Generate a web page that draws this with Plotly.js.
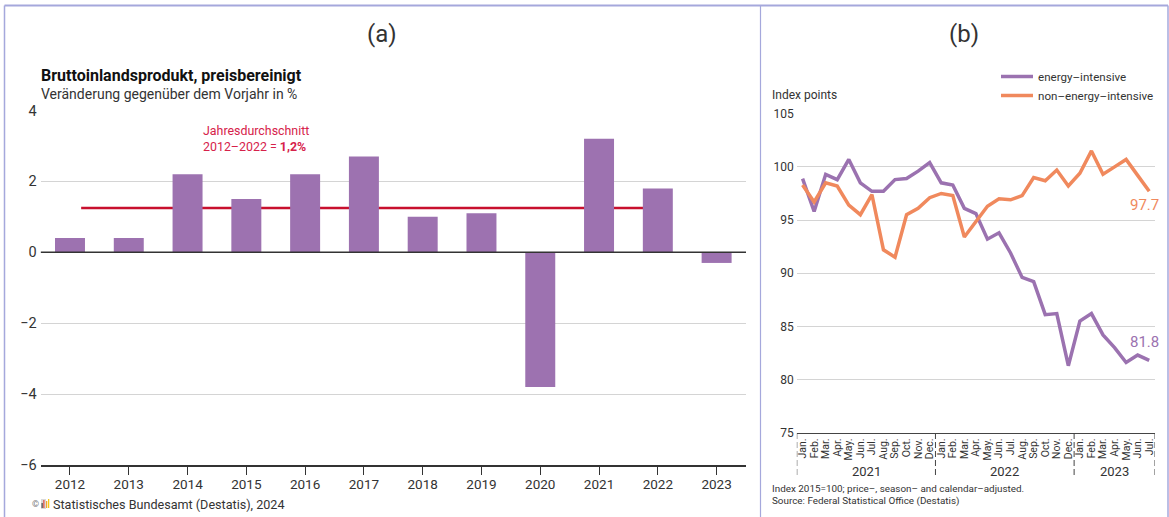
<!DOCTYPE html>
<html><head><meta charset="utf-8">
<script src="https://cdn.plot.ly/plotly-3.0.1.min.js"></script>
<style>html,body{margin:0;padding:0;background:#fff}#c{width:1169px;height:517px}</style></head>
<body><div id="c"></div>
<script>
const years = [2012,2013,2014,2015,2016,2017,2018,2019,2020,2021,2022,2023];
const gdpChange = [0.4,0.4,2.2,1.5,2.2,2.7,1.0,1.1,-3.8,3.2,1.8,-0.3];
const averageValue = 1.25;
const averageFrom = 2012.19;
const averageTo = 2022;

const monthLabels = ["Jan.","Feb.","Mar.","Apr.","May.","Jun.","Jul.","Aug.","Sep.","Oct.","Nov.","Dec.",
 "Jan.","Feb.","Mar.","Apr.","May.","Jun.","Jul.","Aug.","Sep.","Oct.","Nov.","Dec.",
 "Jan.","Feb.","Mar.","Apr.","May.","Jun.","Jul."];
const monthIndex = monthLabels.map((_, i) => i);
const energyIntensive = [98.9,95.8,99.3,98.8,100.7,98.5,97.7,97.7,98.8,98.9,99.6,100.4,
 98.5,98.3,96.1,95.6,93.2,93.8,91.9,89.6,89.2,86.1,86.2,81.3,
 85.5,86.2,84.2,83.0,81.6,82.3,81.8];
const nonEnergyIntensive = [98.3,96.7,98.5,98.2,96.4,95.5,97.4,92.2,91.5,95.5,96.1,97.1,
 97.5,97.3,93.4,94.8,96.3,97.0,96.9,97.3,99.0,98.7,99.7,98.2,
 99.4,101.5,99.3,100.0,100.7,99.2,97.7];
const yearGroups = ["2021","2022","2023"];
const yearEdges = [-0.5,11.5,23.5,30.5];

const W = 1169, H = 517;
const FONT = 'Roboto, sans-serif';
const INK = '#333333', PURPLE = '#9b72b0', ORANGE = '#f0895d', BAR = '#9d72b0', RED = '#d6224a', FRAME = '#a5a8dc';
const px = v => v / W, py = v => 1 - v / H;

function label(text, x, y, size, opts) {
  return Object.assign({ text, x: px(x), y: py(y), xref: 'paper', yref: 'paper', xanchor: 'left', yanchor: 'middle', xshift: -2,
    showarrow: false, font: { family: FONT, size, color: INK } }, opts || {});
}
function frameLine(x0, y0, x1, y1, w) {
  return { type: 'line', xref: 'paper', yref: 'paper', x0: px(x0), y0: py(y0), x1: px(x1), y1: py(y1), line: { color: FRAME, width: w } };
}
function rect(x0, y0, x1, y1, c) {
  return { type: 'rect', xref: 'paper', yref: 'paper', x0: px(x0), y0: py(y0), x1: px(x1), y1: py(y1), fillcolor: c, line: { width: 0 } };
}

const traces = [
  { type: 'bar', x: years, y: gdpChange, width: 0.51, marker: { color: BAR }, xaxis: 'x', yaxis: 'y', showlegend: false, hoverinfo: 'x+y' },
  { type: 'scatter', mode: 'lines', name: 'energy–intensive', x: monthIndex, y: energyIntensive, xaxis: 'x2', yaxis: 'y2', line: { color: PURPLE, width: 3.5, shape: 'linear' } },
  { type: 'scatter', mode: 'lines', name: 'non–energy–intensive', x: monthIndex, y: nonEnergyIntensive, xaxis: 'x2', yaxis: 'y2', line: { color: ORANGE, width: 3.5, shape: 'linear' } }
];

const shapes = [
  frameLine(4.5, 5.5, 1168, 5.5, 2), frameLine(4.5, 5.5, 4.5, 517, 1.5), frameLine(760.5, 5.5, 760.5, 517, 1.2), frameLine(1168, 5.5, 1168, 517, 1.5),
  { type: 'line', xref: 'x', yref: 'y', x0: averageFrom, x1: averageTo, y0: averageValue, y1: averageValue, layer: 'between', line: { color: '#c8102e', width: 2.5 } },
  { type: 'line', xref: 'x', yref: 'paper', x0: 2011.5, x1: 2023.5, y0: py(252.3), y1: py(252.3), line: { color: '#333', width: 1.5 } },
  rect(41, 499, 46, 509, '#d9d9d9'), rect(41.5, 503, 42.8, 508, '#555'), rect(43.2, 500, 44.5, 508, '#e2574c'), rect(46, 501, 47.3, 508, '#f2a72e'), rect(48, 499, 49.3, 508, '#f5c518')
];
yearEdges.forEach(e => shapes.push({ type: 'line', xref: 'x2', yref: 'paper', x0: e, x1: e, y0: py(433), y1: py(477), line: { color: '#444', width: 1, dash: '6px,3px' } }));

const annotations = [
  label('(a)', 382, 34, 24, { xanchor: 'center', xshift: 0 }),
  label('(b)', 964, 34, 24, { xanchor: 'center', xshift: 0 }),
  label('<b>Bruttoinlandsprodukt, preisbereinigt</b>', 41, 75, 16, { font: { family: FONT, size: 16, color: '#111' } }),
  label('Veränderung gegenüber dem Vorjahr in %', 41, 94, 14),
  label('Jahresdurchschnitt', 203, 130, 12.4, { font: { family: FONT, size: 12.4, color: RED } }),
  label('2012–2022 = <b>1,2%</b>', 203, 146, 12.4, { font: { family: FONT, size: 12.4, color: RED } }),
  label('©', 32, 504, 9, { font: { family: FONT, size: 9, color: '#777' } }),
  label('Statistisches Bundesamt (Destatis), 2024', 53, 504, 12.6),
  label('Index points', 772, 95, 12),
  label('Index 2015=100; price–, season– and calendar–adjusted.', 772, 488, 9.9),
  label('Source: Federal Statistical Office (Destatis)', 772, 500.5, 9.9),
  { text: String(nonEnergyIntensive[30]), x: monthIndex[30], y: nonEnergyIntensive[30], xref: 'x2', yref: 'y2', xshift: -5, yshift: -14, showarrow: false, font: { family: FONT, size: 15, color: ORANGE } },
  { text: String(energyIntensive[30]), x: monthIndex[30], y: energyIntensive[30], xref: 'x2', yref: 'y2', xshift: -5, yshift: 18, showarrow: false, font: { family: FONT, size: 15, color: PURPLE } }
];
yearGroups.forEach((g, i) => annotations.push({ text: g, x: (yearEdges[i] + yearEdges[i + 1]) / 2, y: py(471), xref: 'x2', yref: 'paper', yanchor: 'middle', showarrow: false, font: { family: FONT, size: 13, color: INK } }));

const layout = {
  width: W, height: H, margin: { l: 0, r: 0, t: 0, b: 0 }, paper_bgcolor: '#fff', plot_bgcolor: '#fff',
  font: { family: FONT, color: INK }, bargap: 0.49,
  xaxis: { domain: [px(40.6), px(746)], anchor: 'y', range: [2011.5, 2023.5], tickmode: 'array', tickvals: years, ticktext: years.map(String),
    ticks: 'outside', ticklen: 8, tickcolor: '#333', tickwidth: 1, ticklabelstandoff: -2, showline: true, linecolor: '#333', linewidth: 1.5, showgrid: false, zeroline: false, tickfont: { size: 13.5, family: FONT, color: INK } },
  yaxis: { domain: [py(465), py(110.5)], anchor: 'x', range: [-6, 4], tickmode: 'array', tickvals: [-6, -4, -2, 0, 2, 4], showgrid: true, gridcolor: '#d4d4d4', gridwidth: 1, zeroline: false, showline: false, ticks: '', ticklabelstandoff: 3, tickfont: { size: 14.5, family: FONT, color: INK } },
  xaxis2: { domain: [px(796.8), px(1155)], anchor: 'y2', range: [-0.5, 30.5], tickmode: 'array', tickvals: monthIndex, ticktext: monthLabels, tickangle: -90,
    ticks: '', showline: true, linecolor: '#444', linewidth: 1.5, showgrid: false, zeroline: false, tickfont: { size: 10.5, family: FONT, color: INK } },
  yaxis2: { domain: [py(432.7), py(113.7)], anchor: 'x2', range: [75, 105], tickmode: 'array', tickvals: [75, 80, 85, 90, 95, 100, 105], showgrid: true, gridcolor: '#d4d4d4', gridwidth: 1, zeroline: false, showline: false, ticks: '', ticklabelstandoff: 2, tickfont: { size: 12, family: FONT, color: INK } },
  legend: { x: px(996), y: py(62), xanchor: 'left', yanchor: 'top', bgcolor: 'rgba(0,0,0,0)', font: { family: FONT, size: 11.6, color: INK }, itemwidth: 32, tracegroupgap: 0 },
  shapes, annotations
};
Plotly.newPlot('c', traces, layout, { displayModeBar: false, staticPlot: true });
</script></body></html>
